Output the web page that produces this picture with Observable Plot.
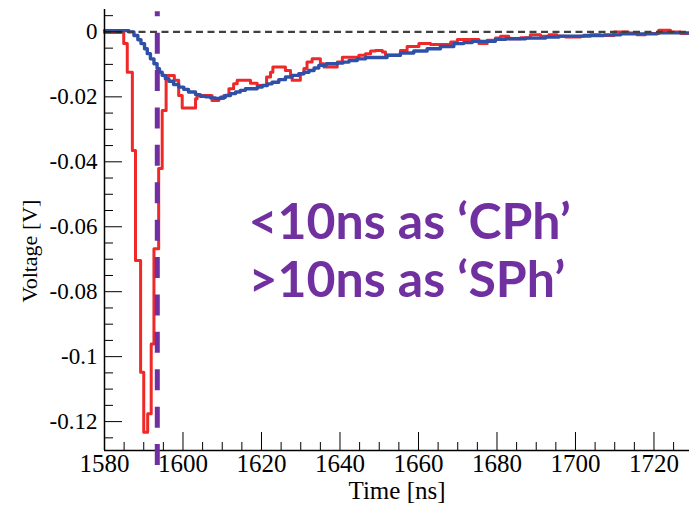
<!DOCTYPE html>
<html><head><meta charset="utf-8">
<script src="https://cdn.jsdelivr.net/npm/d3@7"></script>
<script src="https://cdn.jsdelivr.net/npm/@observablehq/plot@0.6"></script>
<style>body{margin:0;background:#fff} svg{display:block}</style>
</head><body><div id="chart"></div>
<script>
// Red waveform (step histogram): bin start time [ns], voltage [V]
const redTime = [1580, 1584.9, 1585.8, 1587.1, 1587.9, 1589.2, 1590.0, 1591.0, 1591.9, 1592.6, 1593.8, 1594.7, 1595.7,
  1597.8, 1598.9, 1599.8, 1603.2, 1603.6, 1607.4, 1609.1, 1610.4, 1611.7, 1612.9, 1613.8, 1617.2, 1618.9, 1621.3,
  1622.3, 1622.9, 1626.1, 1627.4, 1627.8, 1629.9, 1630.8, 1631.6, 1632.9, 1635.0, 1635.9, 1639.3, 1640.6, 1644.8,
  1646.5, 1647.8, 1649.0, 1650.8, 1651.6, 1655.4, 1657.1, 1660.1, 1663.1, 1668.2, 1669.9, 1675.4, 1677.5, 1679.6,
  1680.9, 1683.0, 1686.0, 1688.5, 1691.1, 1693.2, 1695.3, 1697.5, 1701.3, 1703.8, 1706.4, 1709.8, 1713.5, 1715.7,
  1717.8, 1721.2, 1724.2, 1726.8, 1730];
const redVolt = [-0.0002, -0.0036, -0.0124, -0.0365, -0.0704, -0.1048, -0.1233, -0.1176, -0.0961, -0.0668, -0.0421, -0.0242, -0.0134,
  -0.0149, -0.0196, -0.0234, -0.0206, -0.0196, -0.0211, -0.0205, -0.0196, -0.0175, -0.0160, -0.0149, -0.0158, -0.0165, -0.0139,
  -0.0124, -0.0108, -0.0119, -0.0134, -0.0149, -0.0129, -0.0113, -0.0093, -0.0083, -0.0098, -0.0108, -0.0093, -0.0078, -0.0072,
  -0.0067, -0.0059, -0.0057, -0.0062, -0.0072, -0.0057, -0.0045, -0.0036, -0.0039, -0.0031, -0.0023, -0.0036, -0.0026, -0.0019,
  -0.0013, -0.0021, -0.0018, -0.0009, -0.0013, -0.0009, -0.0013, -0.0016, -0.0013, -0.0009, -0.0011, 0.0000, -0.0003, -0.0009,
  -0.0005, 0.0005, 0.0000, -0.0005, -0.0005];

// Blue waveform (step histogram)
const blueTime = [1580, 1586.2, 1587.5, 1588.5, 1589.3, 1590.2, 1590.9, 1591.7, 1592.6, 1593.4, 1594.0, 1594.7, 1595.5,
  1596.4, 1597.6, 1598.9, 1600.2, 1601.4, 1603.2, 1604.4, 1605.7, 1607.0, 1608.3, 1609.6, 1610.8, 1612.1, 1613.4,
  1614.6, 1615.9, 1618.9, 1620.2, 1621.5, 1622.7, 1624.4, 1626.1, 1627.8, 1629.5, 1630.8, 1632.1, 1633.4, 1634.6,
  1636.5, 1639.3, 1640.8, 1642.3, 1644.4, 1646.5, 1652.0, 1655.4, 1658.8, 1662.2, 1665.6, 1669.0, 1671.5, 1673.7,
  1679.6, 1682.2, 1687.3, 1692.4, 1695.8, 1702.1, 1707.2, 1711.5, 1720.8, 1730];
const blueVolt = [0.0004, 0.0000, -0.0011, -0.0024, -0.0036, -0.0052, -0.0067, -0.0083, -0.0098, -0.0113, -0.0124, -0.0134, -0.0144,
  -0.0152, -0.0162, -0.0170, -0.0177, -0.0185, -0.0193, -0.0198, -0.0200, -0.0203, -0.0205, -0.0201, -0.0196, -0.0190, -0.0185,
  -0.0180, -0.0175, -0.0170, -0.0165, -0.0160, -0.0155, -0.0147, -0.0139, -0.0134, -0.0129, -0.0124, -0.0119, -0.0111, -0.0103,
  -0.0098, -0.0096, -0.0093, -0.0088, -0.0083, -0.0079, -0.0072, -0.0065, -0.0059, -0.0052, -0.0045, -0.0036, -0.0033, -0.0029,
  -0.0023, -0.0021, -0.0019, -0.0016, -0.0013, -0.0011, -0.0009, -0.0006, -0.0003, -0.0003];

const xMajor = [1580, 1600, 1620, 1640, 1660, 1680, 1700, 1720];
const xMinor = [1585, 1590, 1595, 1605, 1610, 1615, 1625, 1630, 1635, 1645, 1650, 1655, 1665, 1670, 1675, 1685, 1690, 1695, 1705, 1710, 1715, 1725];
const yMajor = [0, -0.02, -0.04, -0.06, -0.08, -0.1, -0.12];
const yMinor = [0.005, -0.005, -0.01, -0.015, -0.025, -0.03, -0.035, -0.045, -0.05, -0.055, -0.065, -0.07, -0.075, -0.085, -0.09, -0.095, -0.105, -0.11, -0.115, -0.125];

const xDomain = [1580, 1729.05];
const yDomain = [-0.1289, 0.0069];
const cutTime = 1593.45;
const cutSpan = [0.0062, -0.1379];
const annotLines = ["<10ns as \u2018CPh\u2019", ">10ns as \u2018SPh\u2019"];
const annotTime = 1616.7;
const annotVolt = [-0.0587, -0.0766];

const red = redTime.map((t, i) => ({t, v: redVolt[i]}));
const blue = blueTime.map((t, i) => ({t, v: blueVolt[i]}));

const chart = Plot.plot({
  width: 689, height: 506,
  marginLeft: 104, marginRight: 0, marginTop: 9, marginBottom: 56,
  style: {fontFamily: "'Liberation Serif', 'DejaVu Serif', serif", background: "white", color: "black"},
  x: {domain: xDomain},
  y: {domain: yDomain},
  marks: [
    Plot.line(red, {x: "t", y: "v", curve: "step-after", stroke: "#f02828", strokeWidth: 3}),
    Plot.line(blue, {x: "t", y: "v", curve: "step-after", stroke: "#3050a8", strokeWidth: 3.4}),
    Plot.ruleY([0], {stroke: "#404040", strokeWidth: 2.2, strokeDasharray: "7,4.5"}),
    Plot.axisY({ticks: yMinor, tickSize: -9, tickFormat: () => "", label: null}),
    Plot.axisY({ticks: yMajor, tickSize: -18, tickPadding: 25, tickFormat: d => String(d), fontSize: 23, label: null}),
    Plot.axisX({ticks: xMinor, tickSize: -8, tickFormat: () => "", label: null}),
    Plot.axisX({ticks: xMajor, tickSize: -18, tickPadding: 22, tickFormat: d => String(d), fontSize: 25, label: null}),
    Plot.ruleX([xDomain[0]], {stroke: "black", strokeWidth: 1.5}),
    Plot.ruleY([yDomain[0]], {stroke: "black", strokeWidth: 1.5}),
    Plot.text(["Voltage [V]"], {frameAnchor: "left", dx: -75, dy: 21, rotate: -90, fontSize: 22, lineAnchor: "middle", textAnchor: "middle"}),
    Plot.text(["Time [ns]"], {frameAnchor: "bottom", dy: 40, fontSize: 25, lineAnchor: "middle", textAnchor: "middle"}),
    Plot.ruleX([cutTime], {y1: cutSpan[0], y2: cutSpan[1], stroke: "#7030a0", strokeWidth: 5, strokeDasharray: "21,16.4", strokeDashoffset: 16, clip: false}),
    Plot.text(annotLines, {x: annotTime, y: (d, i) => annotVolt[i], text: d => d, textAnchor: "start", lineAnchor: "middle",
      fill: "#7030a0", fontWeight: "bold", fontSize: 50, fontFamily: "Lato"})
  ]
});
document.getElementById("chart").appendChild(chart);
</script>
</body></html>
